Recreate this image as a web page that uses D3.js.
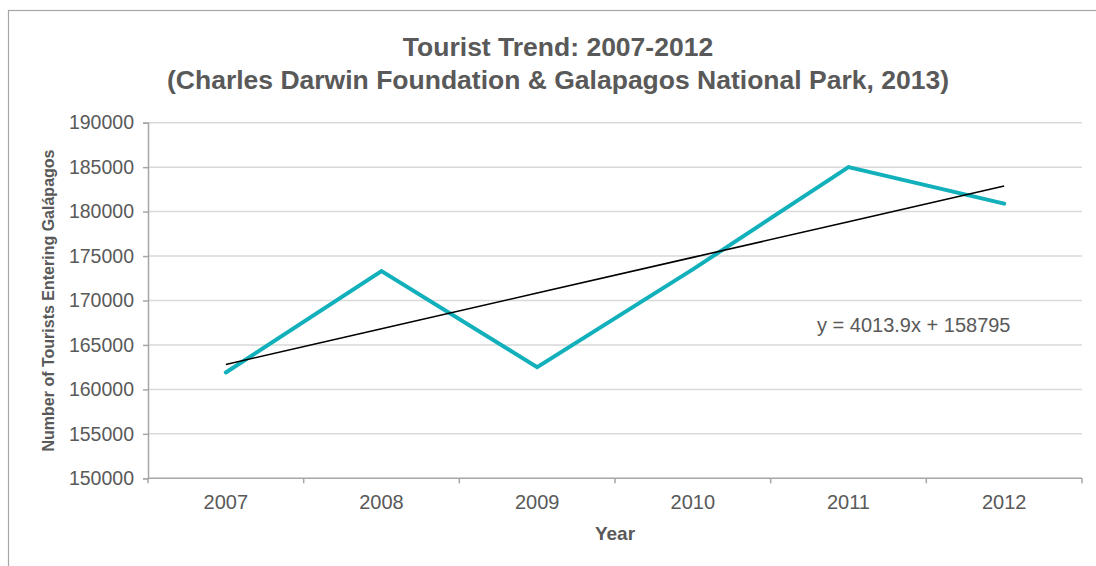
<!DOCTYPE html>
<html>
<head>
<meta charset="utf-8">
<script src="https://cdn.jsdelivr.net/npm/d3@7"></script>
<style>
  html, body { margin: 0; padding: 0; background: #fff; }
  svg { display: block; }
  text { font-family: Arial, "Liberation Sans", sans-serif; fill: #595959; }
</style>
</head>
<body>
<svg id="chart" width="1096" height="566"></svg>
<script>
const years = ["2007", "2008", "2009", "2010", "2011", "2012"];
const tourists = [161900, 173300, 162500, 173500, 185000, 180900];
const yTicks = [150000, 155000, 160000, 165000, 170000, 175000, 180000, 185000, 190000];
const trendSlope = 4013.9;
const trendIntercept = 158795;
const titleLines = ["Tourist Trend: 2007-2012", "(Charles Darwin Foundation & Galapagos National Park, 2013)"];
const yTitle = "Number of Tourists Entering Galápagos";
const xTitle = "Year";
const trendLabel = "y = 4013.9x + 158795";

const svg = d3.select("#chart");
const plot = { left: 148, right: 1082, top: 122.7, bottom: 478.3 };
const FONT = "Arial, 'Liberation Sans', sans-serif";

// outer border
svg.append("rect").attr("x", 8.5).attr("y", 10.5).attr("width", 1100).attr("height", 600)
  .attr("fill", "none").attr("stroke", "#a6a6a6").attr("stroke-width", 1.2);

const x = d3.scaleBand().domain(years).range([plot.left, plot.right]).padding(0);
const y = d3.scaleLinear().domain([150000, 190000]).range([plot.bottom, plot.top]);
const cx = d => x(d) + x.bandwidth() / 2;

// gridlines
svg.append("g").selectAll("line").data(yTicks.filter(v => v !== 150000)).join("line")
  .attr("x1", plot.left).attr("x2", plot.right)
  .attr("y1", d => y(d)).attr("y2", d => y(d))
  .attr("stroke", "#d9d9d9").attr("stroke-width", 1.5);

// y axis
const yAxis = svg.append("g").attr("transform", `translate(${plot.left},0)`)
  .call(d3.axisLeft(y).tickValues(yTicks).tickSize(5).tickPadding(9).tickFormat(d3.format("d")));
yAxis.select(".domain").attr("stroke", "#a6a6a6").attr("stroke-width", 1.5);
yAxis.selectAll(".tick line").attr("stroke", "#a6a6a6").attr("stroke-width", 1.5);
yAxis.selectAll(".tick text").style("font-size", "19.5px").attr("fill", "#595959")
  .style("font-family", FONT);

// x axis (ticks at category boundaries)
const xg = svg.append("g").attr("transform", `translate(0,${plot.bottom})`);
xg.append("line").attr("x1", plot.left).attr("x2", plot.right).attr("y1", 0).attr("y2", 0)
  .attr("stroke", "#a6a6a6").attr("stroke-width", 1.5);
const bounds = years.map(d => x(d)).concat([plot.right]);
xg.selectAll("line.tk").data(bounds).join("line").attr("class", "tk")
  .attr("x1", d => d).attr("x2", d => d).attr("y1", 0).attr("y2", 5)
  .attr("stroke", "#a6a6a6").attr("stroke-width", 1.5);
xg.selectAll("text").data(years).join("text")
  .attr("x", d => cx(d)).attr("y", 31).attr("text-anchor", "middle")
  .style("font-size", "20px").text(d => d);

// data line
const line = d3.line().x((d, i) => cx(years[i])).y(d => y(d));
svg.append("path").datum(tourists).attr("d", line)
  .attr("fill", "none").attr("stroke", "#12b0bb").attr("stroke-width", 4)
  .attr("stroke-linejoin", "miter").attr("stroke-linecap", "round");

// trendline
const trend = years.map((d, i) => trendSlope * (i + 1) + trendIntercept);
svg.append("path").datum(trend).attr("d", line)
  .attr("fill", "none").attr("stroke", "#000").attr("stroke-width", 1.6);

svg.append("text").attr("x", 817).attr("y", 332).style("font-size", "20px").text(trendLabel);

// titles
svg.append("text").attr("x", 558).attr("y", 56).attr("text-anchor", "middle")
  .style("font-size", "26.5px").style("font-weight", "bold").text(titleLines[0]);
svg.append("text").attr("x", 558).attr("y", 89).attr("text-anchor", "middle")
  .style("font-size", "26.5px").style("font-weight", "bold").text(titleLines[1]);

svg.append("text").attr("transform", `translate(54,${(plot.top + plot.bottom) / 2}) rotate(-90)`)
  .attr("text-anchor", "middle").style("font-size", "16px").style("font-weight", "bold").text(yTitle);

svg.append("text").attr("x", (plot.left + plot.right) / 2).attr("y", 540).attr("text-anchor", "middle")
  .style("font-size", "19px").style("font-weight", "bold").text(xTitle);
</script>
</body>
</html>
